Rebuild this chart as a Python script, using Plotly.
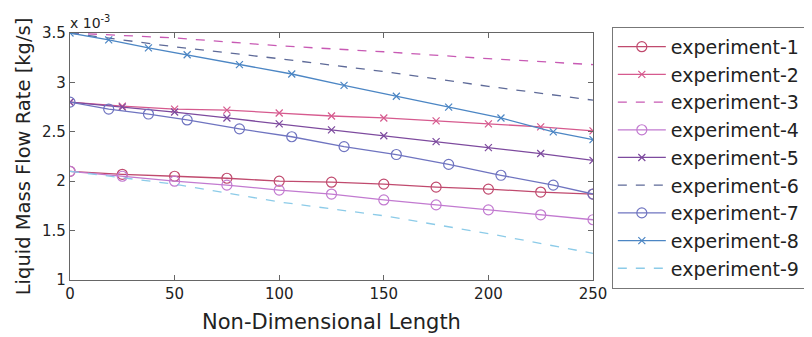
import plotly.graph_objects as go

# Non-dimensional length positions (x)
nd_a = [0, 25, 50, 75, 100, 125, 150, 175, 200, 225, 250]
nd_b = [0, 18.5, 37.5, 56, 81, 106, 131, 156, 181, 206, 231, 250]
nd_c = [0, 50, 100, 150, 200, 250]

# Liquid mass flow rate, in units of 1e-3 kg/s
exp1 = [2.10, 2.07, 2.05, 2.03, 2.00, 1.99, 1.97, 1.94, 1.92, 1.89, 1.87]
exp2 = [2.80, 2.76, 2.73, 2.72, 2.69, 2.66, 2.64, 2.61, 2.58, 2.55, 2.51]
exp3 = [3.50, 3.45, 3.37, 3.31, 3.24, 3.18]
exp4 = [2.10, 2.05, 2.00, 1.96, 1.91, 1.87, 1.81, 1.76, 1.71, 1.66, 1.61]
exp5 = [2.80, 2.75, 2.70, 2.64, 2.58, 2.52, 2.46, 2.40, 2.34, 2.28, 2.21]
exp6 = [3.50, 3.36, 3.24, 3.11, 2.96, 2.82]
exp7 = [2.80, 2.73, 2.68, 2.62, 2.53, 2.45, 2.35, 2.27, 2.17, 2.06, 1.96, 1.87]
exp8 = [3.50, 3.43, 3.35, 3.28, 3.18, 3.085, 2.97, 2.86, 2.75, 2.64, 2.50, 2.42]
exp9 = [2.10, 1.97, 1.79, 1.65, 1.47, 1.27]

y_ticks = [1, 1.5, 2, 2.5, 3, 3.5]
y_ticktext = ["1", "1.5", "2", "2.5", "3", "3.5"]
x_ticks = [0, 50, 100, 150, 200, 250]

series = [
    ("experiment-1", nd_a, exp1, "#c04a6e", "solid", "circle-open"),
    ("experiment-2", nd_a, exp2, "#d65a8e", "solid", "x-thin-open"),
    ("experiment-3", nd_c, exp3, "#c85ab4", "dash", None),
    ("experiment-4", nd_a, exp4, "#c27ad0", "solid", "circle-open"),
    ("experiment-5", nd_a, exp5, "#7d4a9e", "solid", "x-thin-open"),
    ("experiment-6", nd_c, exp6, "#5e6a98", "dash", None),
    ("experiment-7", nd_b, exp7, "#6f74c0", "solid", "circle-open"),
    ("experiment-8", nd_b, exp8, "#4c86c4", "solid", "x-thin-open"),
    ("experiment-9", nd_c, exp9, "#8ccbe8", "dash", None),
]

FONT = "DejaVu Sans"
TXT = "#222"

fig = go.Figure()
for name, xs, ys, col, dash, sym in series:
    if sym:
        fig.add_trace(go.Scatter(
            x=xs, y=ys, name=name, mode="lines+markers",
            line=dict(color=col, width=1.3, dash=dash),
            marker=dict(symbol=sym, size=10 if "circle" in sym else 7,
                        color=col, line=dict(color=col, width=1.2))))
    else:
        fig.add_trace(go.Scatter(
            x=xs, y=ys, name=name, mode="lines",
            line=dict(color=col, width=1.3, dash="dash")))

axis_common = dict(showline=True, linecolor="#666", linewidth=1.2, mirror="ticks",
                   ticks="inside", ticklen=5, tickcolor="#666", showgrid=False,
                   zeroline=False, tickfont=dict(family=FONT, size=15, color=TXT))

fig.update_xaxes(range=[0, 250], tickvals=x_ticks,
                 title=dict(text="Non-Dimensional Length", standoff=12,
                            font=dict(family=FONT, size=21, color=TXT)),
                 **axis_common)
fig.update_yaxes(range=[1, 3.5], tickvals=y_ticks, ticktext=y_ticktext,
                 title=dict(text="Liquid Mass Flow Rate [kg/s]", standoff=6,
                            font=dict(family=FONT, size=19.5, color=TXT)),
                 **axis_common)

fig.add_annotation(text="x 10<sup>-3</sup>", xref="paper", yref="paper", x=0, y=1,
                   xanchor="left", yanchor="bottom", showarrow=False, xshift=-2,
                   font=dict(family=FONT, size=14, color=TXT))

# page body has an 8px margin, so the figure is a little smaller than the window
fig.update_layout(
    width=804, height=329,
    margin=dict(l=62, r=219, t=25, b=57, autoexpand=False),
    plot_bgcolor="white", paper_bgcolor="white",
    legend=dict(x=1.036, y=1.025, xanchor="left", yanchor="top",
                bordercolor="#777", borderwidth=1, bgcolor="white",
                itemwidth=48, maxheight=300,
                font=dict(family=FONT, size=19, color=TXT)),
)

fig.write_html("out.html")
